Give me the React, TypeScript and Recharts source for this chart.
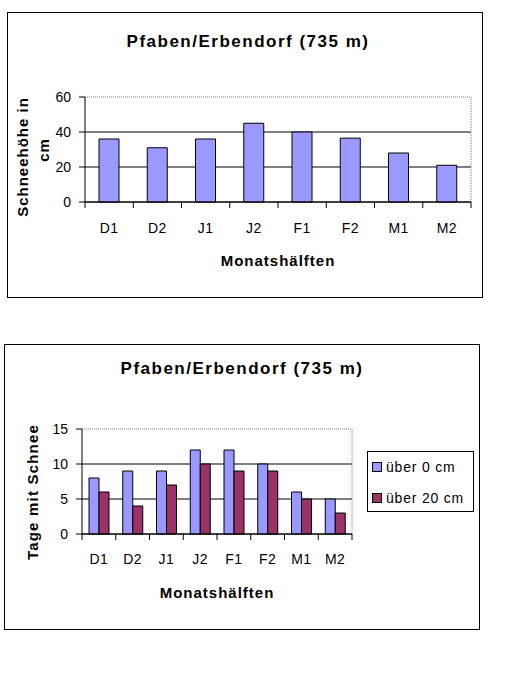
import React from 'react';
import { BarChart, Bar, XAxis, YAxis, CartesianGrid, Legend } from 'recharts';

const months = ['D1', 'D2', 'J1', 'J2', 'F1', 'F2', 'M1', 'M2'];
const depthCm = [36, 31, 36, 45, 40, 36.5, 28, 21];
const daysOver0 = [8, 9, 9, 12, 12, 10, 6, 5];
const daysOver20 = [6, 4, 7, 10, 9, 9, 5, 3];
const depthTicks = [0, 20, 40, 60];
const dayTicks = [0, 5, 10, 15];

const title = 'Pfaben/Erbendorf (735 m)';
const xTitle = 'Monatshälften';

const depthData = months.map((m, i) => ({ name: m, depth: depthCm[i] }));
const dayData = months.map((m, i) => ({ name: m, over0: daysOver0[i], over20: daysOver20[i] }));

const FONT = 'Arial, "Liberation Sans", sans-serif';

// black grid lines, the top one (plus right edge) gray dotted like the plot frame
const gridLine = (p: any) => {
  if (Math.abs(p.y1 - p.y) < 0.5) {
    return (
      <g key={`g-${p.index}`}>
        <line x1={p.x1} y1={p.y1} x2={p.x2} y2={p.y2} stroke="#808080" strokeDasharray="1 1" />
        <line x1={p.x2} y1={p.y1} x2={p.x2} y2={p.y + p.height} stroke="#808080" strokeDasharray="1 1" />
      </g>
    );
  }
  return <line key={`g-${p.index}`} x1={p.x1} y1={p.y1} x2={p.x2} y2={p.y2} stroke="#000" />;
};

// label at band centre, tick marks at band edges
const makeTick = (dy: number) => (props: any) => {
  const { x, y, payload, index, visibleTicksCount } = props;
  const half = payload.offset ?? 0;
  const last = index === visibleTicksCount - 1;
  return (
    <g>
      <line x1={x - half} y1={y - 6} x2={x - half} y2={y} stroke="#000" />
      {last && <line x1={x + half} y1={y - 6} x2={x + half} y2={y} stroke="#000" />}
      <text x={x} y={y + dy} textAnchor="middle" fill="#000" fontSize={14} letterSpacing={0.5}>
        {payload.value}
      </text>
    </g>
  );
};

const frame = (left: number, top: number, w: number, h: number): React.CSSProperties => ({
  position: 'absolute',
  left,
  top,
  width: w,
  height: h,
  border: '1px solid #000',
  boxSizing: 'border-box',
});

const centered = (left: number, top: number, extra: React.CSSProperties = {}): React.CSSProperties => ({
  position: 'absolute',
  left,
  top,
  transform: 'translate(-50%, -50%)',
  whiteSpace: 'nowrap',
  fontWeight: 'bold',
  ...extra,
});

const LegendBox = (props: any) => {
  const { payload } = props;
  return (
    <div
      style={{
        width: 107,
        height: 61,
        border: '1px solid #000',
        boxSizing: 'border-box',
        background: '#fff',
        padding: '4px 0 0 4px',
        fontFamily: FONT,
        fontSize: 14,
        letterSpacing: 0.8,
      }}
    >
      {(payload || []).map((entry: any) => (
        <div key={entry.value} style={{ display: 'flex', alignItems: 'center', height: 22, marginBottom: 9 }}>
          <span
            style={{
              display: 'inline-block',
              width: 8,
              height: 8,
              background: entry.color,
              border: '1px solid #000',
              marginRight: 4,
            }}
          />
          <span>{entry.value}</span>
        </div>
      ))}
    </div>
  );
};

export default function App() {
  return (
    <div style={{ position: 'absolute', left: 0, top: 0, width: 510, height: 700, background: '#fff', fontFamily: FONT }}>
      {/* chart 1: snow depth */}
      <div style={frame(7, 12, 476, 286)} />
      <div style={{ position: 'absolute', left: 0, top: 0 }}>
        <BarChart width={510} height={300} data={depthData} margin={{ top: 97, right: 39, left: 0, bottom: 68 }}>
          <CartesianGrid vertical={false} horizontal={gridLine} />
          <XAxis
            dataKey="name"
            height={30}
            tickLine={false}
            tickSize={6}
            tickMargin={0}
            axisLine={{ stroke: '#000' }}
            tick={makeTick(25)}
            interval={0}
          />
          <YAxis
            width={85}
            domain={[0, 60]}
            ticks={depthTicks}
            tickSize={6}
            tickMargin={8}
            axisLine={{ stroke: '#000' }}
            tickLine={{ stroke: '#000' }}
            tick={{ fill: '#000', fontSize: 14 }}
          />
          <Bar dataKey="depth" fill="#9999FF" stroke="#000" barSize={20} isAnimationActive={false} />
        </BarChart>
      </div>
      <div style={centered(248, 42, { fontSize: 17, letterSpacing: 1.5 })}>{title}</div>
      <div style={centered(278, 260, { fontSize: 15, letterSpacing: 1 })}>{xTitle}</div>
      <div style={centered(22, 157, { fontSize: 15, letterSpacing: 1, transform: 'translate(-50%, -50%) rotate(-90deg)' })}>
        Schneehöhe in
      </div>
      <div style={centered(43, 150, { fontSize: 15, letterSpacing: 1, transform: 'translate(-50%, -50%) rotate(-90deg)' })}>
        cm
      </div>

      {/* chart 2: days with snow */}
      <div style={frame(4, 344, 476, 286)} />
      <div style={{ position: 'absolute', left: 0, top: 340 }}>
        <BarChart
          width={510}
          height={300}
          data={dayData}
          margin={{ top: 89, right: 158, left: 0, bottom: 76 }}
          barGap={0}
        >
          <CartesianGrid vertical={false} horizontal={gridLine} />
          <XAxis
            dataKey="name"
            height={30}
            tickLine={false}
            tickSize={6}
            tickMargin={0}
            axisLine={{ stroke: '#000' }}
            tick={makeTick(24)}
            interval={0}
          />
          <YAxis
            width={82}
            domain={[0, 15]}
            ticks={dayTicks}
            tickSize={6}
            tickMargin={8}
            axisLine={{ stroke: '#000' }}
            tickLine={{ stroke: '#000' }}
            tick={{ fill: '#000', fontSize: 14 }}
          />
          <Legend
            layout="vertical"
            align="center"
            verticalAlign="middle"
            content={LegendBox}
            wrapperStyle={{ left: 367, top: 111, width: 107, height: 61 }}
          />
          <Bar dataKey="over0" name="über 0 cm" fill="#9999FF" stroke="#000" barSize={10} isAnimationActive={false} />
          <Bar dataKey="over20" name="über 20 cm" fill="#993366" stroke="#000" barSize={10} isAnimationActive={false} />
        </BarChart>
      </div>
      <div style={centered(242, 369, { fontSize: 17, letterSpacing: 1.5 })}>{title}</div>
      <div style={centered(217, 592, { fontSize: 15, letterSpacing: 1 })}>{xTitle}</div>
      <div style={centered(32, 492, { fontSize: 15, letterSpacing: 1.2, transform: 'translate(-50%, -50%) rotate(-90deg)' })}>
        Tage mit Schnee
      </div>
    </div>
  );
}
